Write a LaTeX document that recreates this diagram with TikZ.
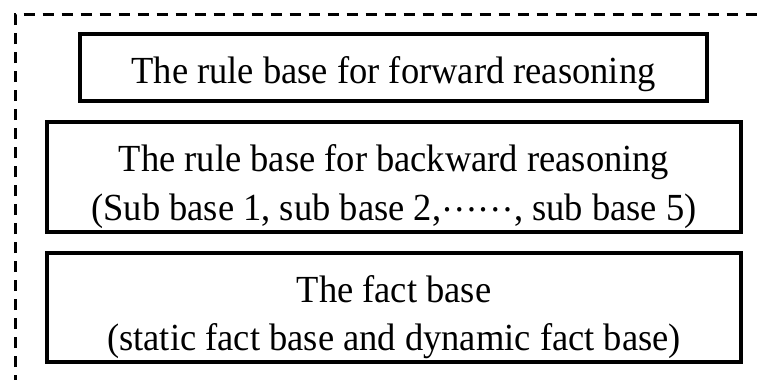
\documentclass[tikz,border=0pt]{standalone}
\usepackage{graphicx}
\usepackage{fontspec}
\setmainfont{Liberation Serif}
\newcommand{\tallt}[1]{\scalebox{1}[1.05]{#1}}
\begin{document}
\begin{tikzpicture}[x=1pt,y=-1pt,
  box/.style={draw, line width=3.2pt, inner sep=0pt, rectangle},
  txt/.style={anchor=base, inner sep=0pt, font=\fontsize{36.5}{43}\selectfont}]
\useasboundingbox (0,0) rectangle (763,380);
\coordinate (c1) at (15,386);
\coordinate (c2) at (15,14.5);
\coordinate (c3) at (770,14.5);
\draw[line width=3pt, dash pattern=on 11pt off 8pt] (c1) -- (c2) -- (c3);
\node[box, minimum width=627pt, minimum height=67pt] (b1) at (393.5,67.5) {};
\node[box, minimum width=694pt, minimum height=110pt] (b2) at (394,177) {};
\node[box, minimum width=694pt, minimum height=109pt] (b3) at (394,307.5) {};
\node[txt] (t1) at (393.5,83) {\tallt{The rule base for forward reasoning}};
\node[txt] (t2a) at (394,171) {\tallt{The rule base for backward reasoning}};
\node[txt] (t2b) at (394,220) {\tallt{(Sub base 1, sub base 2,\raisebox{0.22em}{……}, sub base 5)}};
\node[txt] (t3a) at (394,302) {\tallt{The fact base}};
\node[txt] (t3b) at (394,350) {\tallt{(static fact base and dynamic fact base)}};
\end{tikzpicture}
\end{document}
